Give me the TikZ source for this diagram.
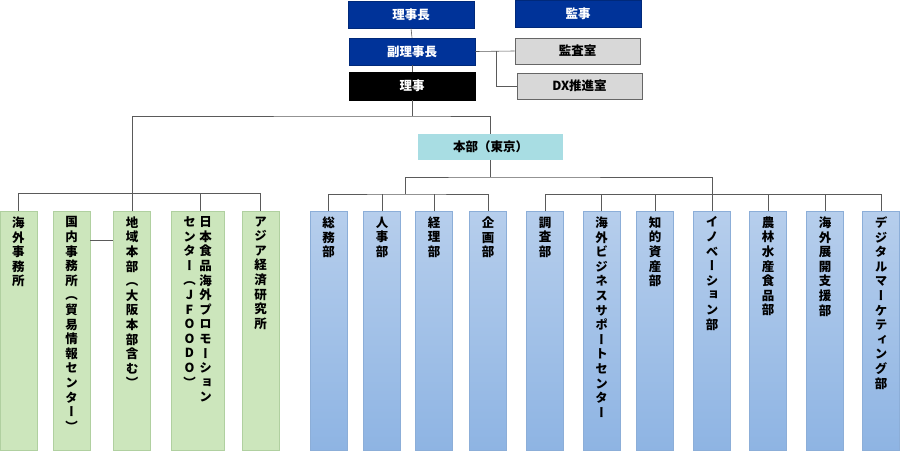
\documentclass[tikz,border=0pt]{standalone}
\usepackage{fontspec}
\newfontfamily\jp{Noto Sans CJK JP}
\newfontfamily\jpv{Noto Sans CJK JP}[RawFeature=+vert]
\definecolor{dblue}{RGB}{0,51,153}
\definecolor{gfill}{RGB}{216,216,216}
\definecolor{cyanf}{RGB}{168,221,227}
\definecolor{grf}{RGB}{204,230,188}
\definecolor{grd}{RGB}{176,208,160}
\definecolor{bt}{RGB}{182,206,236}
\definecolor{bb}{RGB}{142,180,227}
\definecolor{bd}{RGB}{140,174,216}
\definecolor{ln}{RGB}{90,90,90}
\def\vtA#1{\ifx#1\relax\else\hbox to 14pt{\hss#1\hss}\expandafter\vtA\fi}
\newcommand\vt[1]{\vbox to 228pt{\hsize=14pt\baselineskip=14.6pt\lineskiplimit=-20pt\vtA#1\relax\vfill}}
\tikzset{
 x=1pt,y=-1pt,
 top/.style={draw=#1!80!black,line width=0.8pt,minimum width=126pt,minimum height=27pt,inner sep=0pt,font=\jp\bfseries\fontsize{12.5}{13}\selectfont},
 gb/.style={draw=grd,fill=grf,minimum width=37pt,minimum height=239pt,inner sep=2pt,anchor=north,font=\jpv\bfseries\fontsize{12.5}{14}\selectfont},
 bbox/.style={draw=bd,top color=bt,bottom color=bb,minimum width=37pt,minimum height=239pt,inner sep=2pt,anchor=north,font=\jpv\bfseries\fontsize{12.5}{14}\selectfont},
 cn/.style={draw=ln,line width=0.6pt}
}
\begin{document}
\begin{tikzpicture}
\useasboundingbox[fill=white] (0,0) rectangle (900,452);
\node[top=dblue,fill=dblue,text=white] (rc) at (411,14.5) {理事長};
\node[top=dblue,fill=dblue,text=white] (ks) at (578,14) {監事};
\node[top=dblue,fill=dblue,text=white] (fr) at (412,51.5) {副理事長};
\node[top=gray,fill=gfill,minimum width=125pt,minimum height=26pt] (ka) at (577.5,51) {監査室};
\node[top=gray,fill=gfill,minimum width=125pt,minimum height=26pt] (dx) at (579.5,86) {DX推進室};
\node[top=black,fill=black,text=white,minimum height=28pt] (ri) at (412,86) {理事};
\node[draw=none,fill=cyanf,minimum width=145pt,minimum height=26pt,font=\jp\bfseries\fontsize{12.5}{13}\selectfont] (hb) at (490.5,147) {本部（東京）};
% left group
\node[gb] (a1) at (18.5,211) {\vt{海外事務所}};
\node[gb] (a2) at (71.5,211) {\vt{国内事務所（貿易情報センター）}};
\node[gb] (a3) at (132,211) {\vt{地域本部（大阪本部含む）}};
\node[gb,minimum width=53pt] (a4) at (197.5,211) {\hbox{\vt{センター（JFOODO）}\kern2pt\vt{日本食品海外プロモーション}}};
\node[gb] (a5) at (260.5,211) {\vt{アジア経済研究所}};
% right group
\foreach \n/\x/\t in {b1/328.5/総務部,b2/382/人事部,b3/434/経理部,b4/488/企画部,b5/545/調査部,b6/601.5/海外ビジネスサポートセンター,b7/655/知的資産部,b8/712/イノベーション部,b9/768/農林水産食品部,b10/825/海外展開支援部,b11/881/デジタルマーケティング部}
  \node[bbox] (\n) at (\x,211) {\expandafter\vt\expandafter{\t}};
% connectors
\draw[cn] (rc.south) -- (fr.north);
\draw[cn] (fr.south) -- (ri.north);
\draw[cn] (fr.east) -- (ka.west);
\draw[cn] (496,51.5) |- (dx.west);
\coordinate (j1) at (412,116);
\draw[cn] (ri.south) -- (j1);
\draw[cn] (a3.north) |- (j1) -| (hb.north);
\draw[cn] (a1.north) |- (18.5,193) -| (a5.north);
\draw[cn] (200,193) -- (200,211);
\draw[cn] (a2.east |- 0,240) -- (a3.west |- 0,240);
\coordinate (j2) at (490.5,177);
\draw[cn] (hb.south) -- (j2);
\draw[cn] (405,194) |- (j2) -| (b8.north);
\draw[cn] (b1.north) |- (405,194) -| (b4.north);
\draw[cn] (b2.north) -- (b2.north |- 0,194);
\draw[cn] (b3.north) -- (b3.north |- 0,194);
\draw[cn] (b5.north) |- (b11.north |- 0,194) -- (b11.north);
\foreach \n in {b6,b7,b9,b10} \draw[cn] (\n.north) -- (\n.north |- 0,194);
\end{tikzpicture}
\end{document}
